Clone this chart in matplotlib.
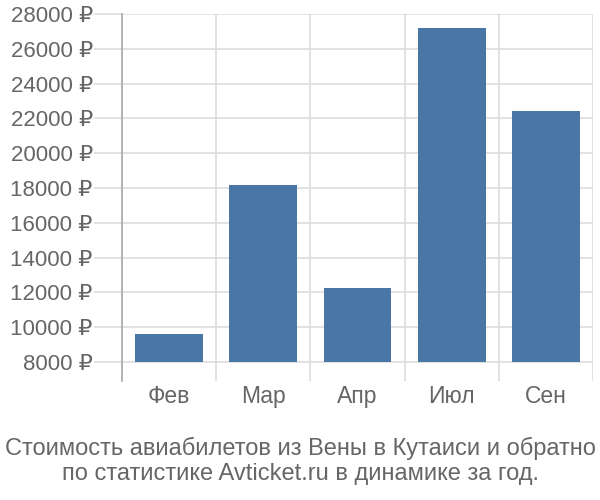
import matplotlib
matplotlib.use("Agg")
import matplotlib.pyplot as plt
import numpy as np

plt.rcParams['font.family'] = ['Liberation Sans', 'DejaVu Sans']

# Data
months = ["Фев", "Мар", "Апр", "Июл", "Сен"]
prices = [9600, 18200, 12250, 27200, 22400]
yticks = list(range(8000, 28001, 2000))
caption = ("Стоимость авиабилетов из Вены в Кутаиси и обратно\n"
           "по статистике Avticket.ru в динамике за год.")

bar_color = "#4a76a6"
text_color = "#666666"
grid_color = "#dddddd"

fig = plt.figure(figsize=(6, 5), dpi=100)
ax = fig.add_axes([0.2033, 0.238, 0.785, 0.734])

x = np.arange(len(months))
base = 8000
ax.bar(x, np.array(prices) - base, bottom=base, width=0.72,
       color=bar_color, zorder=3)

ax.set_xlim(-0.5, len(months) - 0.5)
ax.set_ylim(6908, 28000)

# horizontal grid + tick-like stubs
ax.set_yticks(yticks)
ax.set_yticklabels([f"{v} ₽" for v in yticks])
ax.yaxis.grid(True, color=grid_color, linewidth=1.2, zorder=0)
ax.tick_params(axis='y', length=20, width=1.2, color=grid_color,
               labelsize=16, labelcolor=text_color, pad=1)

# vertical lines between categories
for b in np.arange(-0.5, len(months), 1.0):
    ax.axvline(b, color=grid_color, linewidth=1.2, zorder=0)

ax.set_xticks(x)
ax.set_xticklabels(months)
ax.tick_params(axis='x', length=0, labelsize=16.5, labelcolor=text_color, pad=3)

for s in ["top", "right", "bottom"]:
    ax.spines[s].set_visible(False)
ax.spines["left"].set_color("#aaaaaa")
ax.spines["left"].set_linewidth(1.2)

fig.text(0.5, 0.03, caption, ha="center", va="bottom", fontsize=17,
         color=text_color, linespacing=1.15)

fig.savefig("out.png", dpi=100)
